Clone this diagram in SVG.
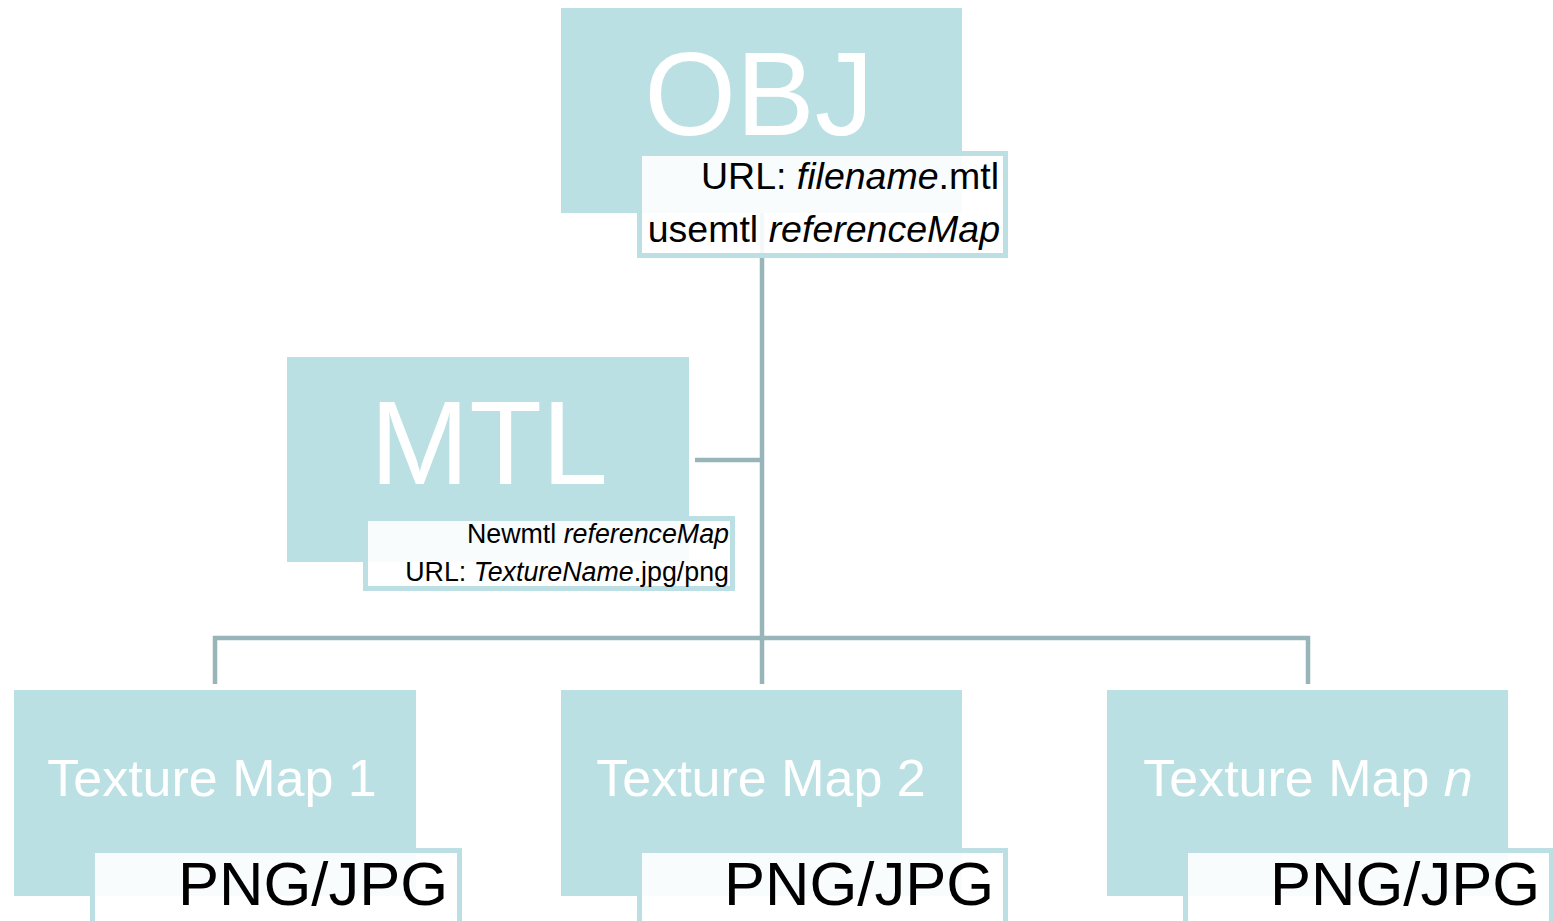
<svg xmlns="http://www.w3.org/2000/svg" width="1553" height="921" viewBox="0 0 1553 921">
<style>
.box{fill:#bbe0e3}
.lbl{fill:#ffffff;fill-opacity:0.9;stroke:#bbdfe2;stroke-width:5}
.conn{stroke:#98b5b9;stroke-width:4.5;fill:none}
.big{font-family:"Liberation Sans",Arial,sans-serif;fill:#ffffff;text-anchor:middle}
.t{font-family:"Liberation Sans",Arial,sans-serif;fill:#000000;text-anchor:end}
</style>
<rect width="1553" height="921" fill="#ffffff"/>
<g id="connectors">
<line class="conn" x1="762" y1="213" x2="762" y2="684"/>
<line class="conn" x1="695" y1="460" x2="762" y2="460"/>
<polyline class="conn" points="215,684 215,638 1308,638 1308,684"/>
</g>
<g id="obj">
<rect class="box" x="561" y="8" width="401" height="205"/>
<text class="big" x="759" y="135" font-size="118">OBJ</text>
<rect class="lbl" x="639.5" y="153.5" width="366" height="102"/>
<text class="t" x="999" y="189" font-size="37.5">URL: <tspan font-style="italic">filename</tspan>.mtl</text>
<text class="t" x="1000" y="242" font-size="37.5">usemtl <tspan font-style="italic">referenceMap</tspan></text>
</g>
<g id="mtl">
<rect class="box" x="287" y="357" width="402" height="205"/>
<text class="big" x="489" y="484" font-size="119">MTL</text>
<rect class="lbl" x="365.5" y="518.5" width="367" height="70"/>
<text class="t" x="729" y="543" font-size="26.8">Newmtl <tspan font-style="italic">referenceMap</tspan></text>
<text class="t" x="729" y="581" font-size="26.8">URL: <tspan font-style="italic">TextureName</tspan>.jpg/png</text>
</g>
<g id="tex1">
<rect class="box" x="14" y="690" width="402" height="206"/>
<text class="big" x="212" y="796" font-size="52">Texture Map 1</text>
<rect class="lbl" x="92.5" y="850.5" width="367" height="102"/>
<text class="t" x="448" y="905" font-size="61.5">PNG/JPG</text>
</g>
<g id="tex2">
<rect class="box" x="561" y="690" width="401" height="206"/>
<text class="big" x="761" y="796" font-size="52">Texture Map 2</text>
<rect class="lbl" x="639.5" y="850.5" width="366" height="102"/>
<text class="t" x="994" y="905" font-size="61.5">PNG/JPG</text>
</g>
<g id="texn">
<rect class="box" x="1107" y="690" width="401" height="206"/>
<text class="big" x="1308" y="796" font-size="52">Texture Map <tspan font-style="italic">n</tspan></text>
<rect class="lbl" x="1185.5" y="850.5" width="366" height="102"/>
<text class="t" x="1540" y="905" font-size="61.5">PNG/JPG</text>
</g>
</svg>
